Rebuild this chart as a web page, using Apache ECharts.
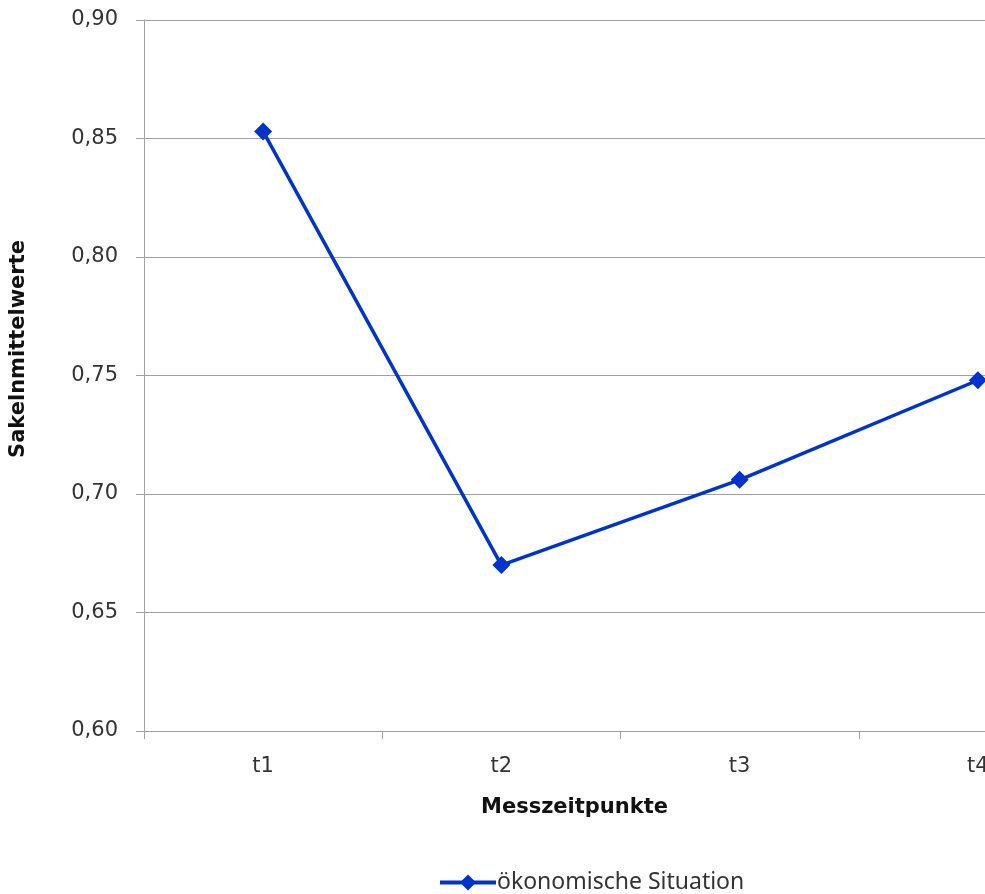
<!DOCTYPE html>
<html>
<head>
<meta charset="utf-8">
<script src="https://cdn.jsdelivr.net/npm/echarts@6/dist/echarts.min.js"></script>
<style>
  html, body { margin: 0; padding: 0; background: #fff; }
  #chart { width: 985px; height: 894px; }
</style>
</head>
<body>
<div id="chart"></div>
<script>
// Measurement points and scale means
const categories = ['t1', 't2', 't3', 't4'];
const seriesName = 'ökonomische Situation';
const values = [0.853, 0.670, 0.706, 0.748];
const yTicks = { min: 0.60, max: 0.90, step: 0.05 };
const xTitle = 'Messzeitpunkte';
const yTitle = 'Sakelnmittelwerte';

const chart = echarts.init(document.getElementById('chart'), null, { renderer: 'canvas' });

const gray = '#a0a0a0';
const lineBlue = '#0033cc';

chart.setOption({
  animation: false,
  backgroundColor: '#ffffff',
  // the plot runs past the right edge of the canvas, so the fourth band is cut off
  grid: { left: 144, top: 20, width: 953, height: 711, containLabel: false, outerBoundsMode: 'none' },
  xAxis: {
    type: 'category',
    data: categories,
    boundaryGap: true,
    axisLine: { show: true, lineStyle: { color: gray, width: 1 } },
    axisTick: { show: true, length: 8, lineStyle: { color: gray } },
    axisLabel: { margin: 25, fontFamily: 'DejaVu Sans', fontSize: 21, color: '#333' },
    splitLine: { show: false }
  },
  yAxis: {
    type: 'value',
    min: yTicks.min,
    max: yTicks.max,
    interval: yTicks.step,
    axisLine: { show: true, lineStyle: { color: gray, width: 1 } },
    axisTick: { show: true, length: 8, lineStyle: { color: gray } },
    axisLabel: {
      margin: 26,
      fontFamily: 'DejaVu Sans',
      fontSize: 21,
      color: '#333',
      formatter: v => v.toFixed(2).replace('.', ',')
    },
    splitLine: { show: true, lineStyle: { color: gray, width: 1 } }
  },
  legend: {
    left: 433,
    top: 866,
    itemWidth: 56,
    itemHeight: 20,
    itemGap: 10,
    lineStyle: { width: 4 },
    textStyle: { fontFamily: 'Noto Sans', fontSize: 23, color: '#333', padding: [0, 0, 0, -4] },
    data: [seriesName]
  },
  series: [{
    name: seriesName,
    type: 'line',
    data: values,
    symbol: 'diamond',
    symbolSize: 18,
    lineStyle: { color: lineBlue, width: 3.5 },
    itemStyle: { color: lineBlue },
    z: 5
  }],
  graphic: [
    {
      type: 'text',
      left: 481,
      top: 797,
      style: { text: xTitle, font: 'bold 21px "DejaVu Sans"', fill: '#111' }
    },
    {
      type: 'text',
      x: 19,
      y: 349,
      rotation: Math.PI / 2,
      style: { text: yTitle, font: 'bold 21px "DejaVu Sans"', fill: '#111', align: 'center', verticalAlign: 'middle' }
    }
  ]
});
</script>
</body>
</html>
